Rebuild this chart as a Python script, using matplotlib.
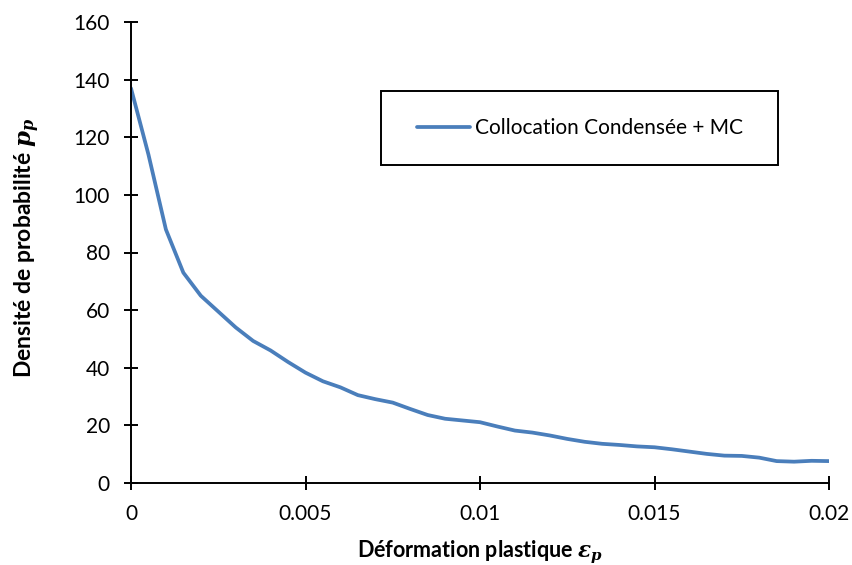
import matplotlib
matplotlib.use("Agg")
import matplotlib.pyplot as plt
from matplotlib.patches import Rectangle

strain = [0.0, 0.0005, 0.001, 0.0015, 0.002, 0.0025, 0.003, 0.0035, 0.004, 0.0045,
          0.005, 0.0055, 0.006, 0.0065, 0.007, 0.0075, 0.008, 0.0085, 0.009, 0.0095,
          0.01, 0.0105, 0.011, 0.0115, 0.012, 0.0125, 0.013, 0.0135, 0.014, 0.0145,
          0.015, 0.0155, 0.016, 0.0165, 0.017, 0.0175, 0.018, 0.0185, 0.019, 0.0195, 0.02]
density = [137, 114, 88, 73, 65, 59.5, 54, 49.3, 46, 42,
           38.3, 35.3, 33.2, 30.5, 29.1, 27.9, 25.7, 23.6, 22.3, 21.7,
           21.1, 19.6, 18.2, 17.5, 16.5, 15.3, 14.3, 13.6, 13.2, 12.7,
           12.4, 11.7, 10.9, 10.1, 9.5, 9.4, 8.8, 7.6, 7.4, 7.7, 7.6]
series_label = "Collocation Condensée + MC"
xticks = [0, 0.005, 0.01, 0.015, 0.02]
xticklabels = ["0", "0.005", "0.01", "0.015", "0.02"]
yticks = [0, 20, 40, 60, 80, 100, 120, 140, 160]

plt.rcParams['font.family'] = ['Lato', 'DejaVu Sans']
plt.rcParams['mathtext.fontset'] = 'custom'
plt.rcParams['mathtext.it'] = 'DejaVu Serif:italic:bold'
plt.rcParams['mathtext.rm'] = 'DejaVu Serif:bold'

W, H = 852, 565
fig = plt.figure(figsize=(W/100, H/100), dpi=100)
ax = fig.add_axes([131/W, 1-483/H, (829-131)/W, (483-22)/H])

ax.plot(strain, density, color='#4a7ebb', lw=2.7, label=series_label, solid_capstyle='round')

ax.set_xlim(0, 0.02)
ax.set_ylim(0, 160)
ax.set_xticks(xticks)
ax.set_xticklabels(xticklabels)
ax.set_yticks(yticks)
for s in ['top', 'right']:
    ax.spines[s].set_visible(False)
for s in ['left', 'bottom']:
    ax.spines[s].set_linewidth(1.4)
    ax.spines[s].set_color('black')
ax.tick_params(direction='inout', length=10.5, width=1.4, labelsize=15, pad=10)

ax.set_xlabel(r"Déformation plastique $\varepsilon_p$", fontsize=15.5, fontweight='bold')
ax.set_ylabel(r"Densité de probabilité $p_p$", fontsize=16.5, fontweight='bold')
ax.xaxis.set_label_coords(0.5, (483-539)/461)
ax.yaxis.set_label_coords((42-131)/698, 0.51)

rect = Rectangle((381/W, 1-165/H), 397/W, 74/H, transform=fig.transFigure,
                 fill=False, edgecolor='black', linewidth=1.4)
fig.patches.append(rect)

leg = ax.legend(loc='center left', bbox_to_anchor=(417/W, 1-128/H),
                bbox_transform=fig.transFigure, fontsize=15,
                frameon=False, borderpad=0, handlelength=2.55,
                handletextpad=0.25, borderaxespad=0)

fig.savefig("out.png", dpi=100)
